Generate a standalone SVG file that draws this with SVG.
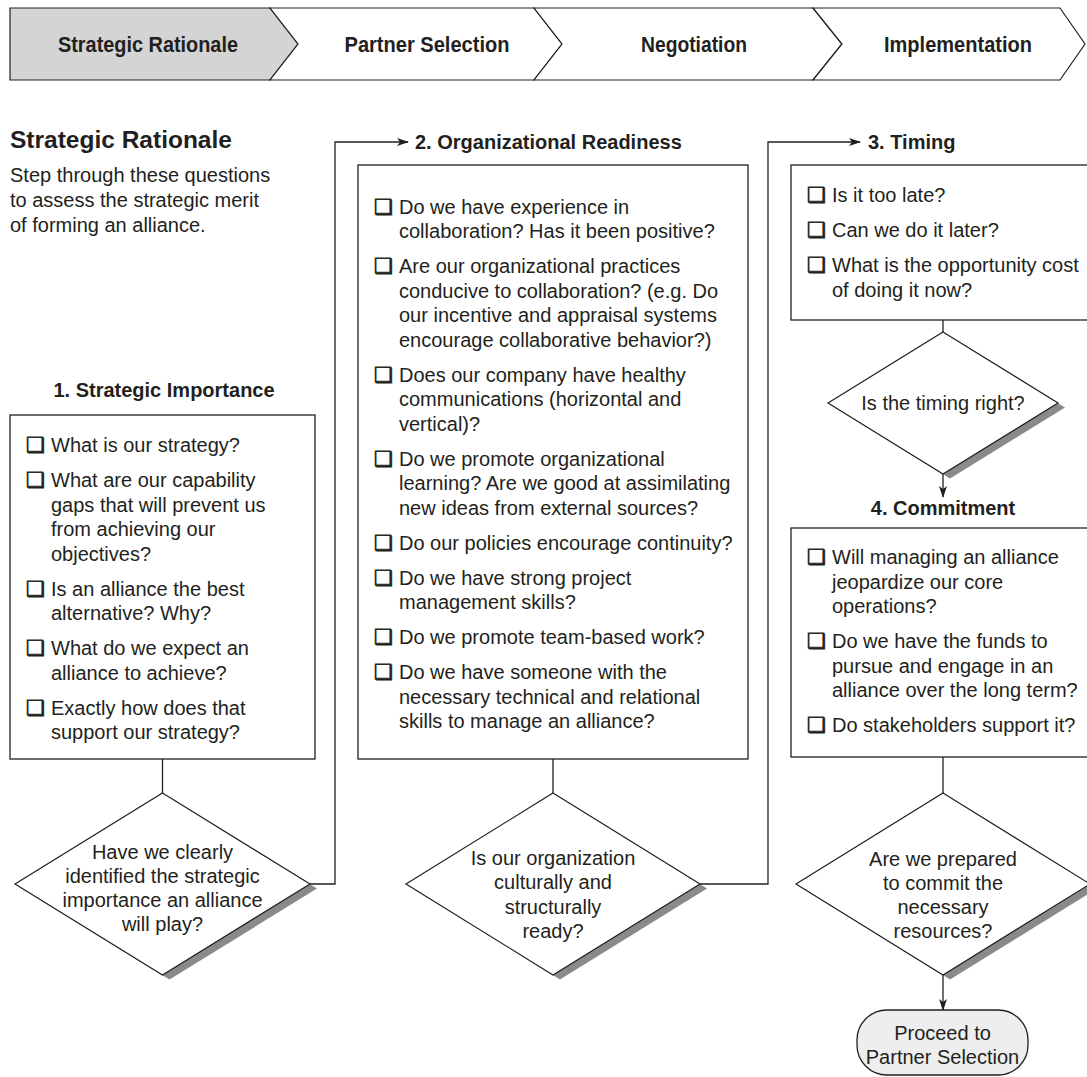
<svg xmlns="http://www.w3.org/2000/svg" width="1087" height="1077" viewBox="0 0 1087 1077">
<defs>
<marker id="arr" markerWidth="12" markerHeight="8" refX="11" refY="4" orient="auto" markerUnits="userSpaceOnUse">
<path d="M0,0 L12,4 L0,8 L3,4 z" fill="#231f20"/>
</marker>
</defs>
<style>
.t{font-family:"Liberation Sans",Arial,sans-serif;font-size:20px;fill:#231f20}
.b{font-weight:bold}
.h{font-size:24.5px}
.c{text-anchor:middle}
.bn{font-family:"Liberation Sans",Arial,sans-serif;font-size:22px;font-weight:bold;fill:#231f20;text-anchor:middle}
.cb{font-family:"DejaVu Sans",sans-serif;font-size:21px;fill:#231f20;stroke:#231f20;stroke-width:0.7}
.box{fill:#fff;stroke:#231f20;stroke-width:1.3}
.dia{fill:#fff;stroke:#231f20;stroke-width:1.2}
.sh{fill:#8a8a8a}
.ln{fill:none;stroke:#231f20;stroke-width:1.3}
.seg{stroke:#231f20;stroke-width:1.2;stroke-linejoin:miter}
</style>
<rect width="1087" height="1077" fill="#fff"/>

<g id="banner">
<path class="seg" d="M10,8 L270,8 L298,44 L270,80 L10,80 Z" fill="#d4d4d4"/>
<path class="seg" d="M270,8 L534,8 L562,44 L534,80 L270,80 L298,44 Z" fill="#fff"/>
<path class="seg" d="M534,8 L813,8 L842,44 L813,80 L534,80 L562,44 Z" fill="#fff"/>
<path class="seg" d="M813,8 L1060,8 L1085,44 L1060,80 L813,80 L842,44 Z" fill="#fff"/>
<text class="bn" x="148" y="52" textLength="180" lengthAdjust="spacingAndGlyphs">Strategic Rationale</text>
<text class="bn" x="427" y="52" textLength="165" lengthAdjust="spacingAndGlyphs">Partner Selection</text>
<text class="bn" x="694" y="52" textLength="106" lengthAdjust="spacingAndGlyphs">Negotiation</text>
<text class="bn" x="958" y="52" textLength="148" lengthAdjust="spacingAndGlyphs">Implementation</text>
</g>

<g id="intro">
<text class="t b h" x="10" y="148">Strategic Rationale</text>
<text class="t" x="10" y="182">Step through these questions</text>
<text class="t" x="10" y="207">to assess the strategic merit</text>
<text class="t" x="10" y="232">of forming an alliance.</text>
</g>

<g id="connectors">
<line class="ln" x1="162.5" y1="759" x2="162.5" y2="793"/>
<polyline class="ln" points="310,884 335,884 335,142 408,142" marker-end="url(#arr)"/>
<line class="ln" x1="553" y1="759" x2="553" y2="793"/>
<polyline class="ln" points="700,884 768,884 768,142 860,142" marker-end="url(#arr)"/>
<line class="ln" x1="943" y1="320" x2="943" y2="332"/>
<line class="ln" x1="943" y1="474" x2="943" y2="497" marker-end="url(#arr)"/>
<line class="ln" x1="943" y1="757" x2="943" y2="793"/>
<line class="ln" x1="943" y1="975" x2="943" y2="1010" marker-end="url(#arr)"/>
</g>

<g id="strategic-importance">
<text class="t b c" x="164" y="397">1. Strategic Importance</text>
<rect class="box" x="10" y="415" width="305" height="344"/>
<text class="cb" x="26" y="452">❑</text><text class="t" x="51" y="452">What is our strategy?</text>
<text class="cb" x="26" y="487">❑</text><text class="t" x="51" y="487">What are our capability</text>
<text class="t" x="51" y="511.5">gaps that will prevent us</text>
<text class="t" x="51" y="536">from achieving our</text>
<text class="t" x="51" y="560.5">objectives?</text>
<text class="cb" x="26" y="595.5">❑</text><text class="t" x="51" y="595.5">Is an alliance the best</text>
<text class="t" x="51" y="620">alternative? Why?</text>
<text class="cb" x="26" y="655">❑</text><text class="t" x="51" y="655">What do we expect an</text>
<text class="t" x="51" y="679.5">alliance to achieve?</text>
<text class="cb" x="26" y="714.5">❑</text><text class="t" x="51" y="714.5">Exactly how does that</text>
<text class="t" x="51" y="739">support our strategy?</text>
</g>

<g id="decision-1">
<path class="sh" transform="translate(7,4.5)" d="M162.5,793 L310,884 L162.5,975 L15,884 Z"/>
<path class="dia" d="M162.5,793 L310,884 L162.5,975 L15,884 Z"/>
<text class="t c" x="162.5" y="859">Have we clearly</text>
<text class="t c" x="162.5" y="883">identified the strategic</text>
<text class="t c" x="162.5" y="907">importance an alliance</text>
<text class="t c" x="162.5" y="931">will play?</text>
</g>

<g id="organizational-readiness">
<text class="t b" x="415" y="149">2. Organizational Readiness</text>
<rect class="box" x="358" y="165" width="390" height="594"/>
<text class="cb" x="374" y="213.5">❑</text><text class="t" x="399" y="213.5">Do we have experience in</text>
<text class="t" x="399" y="238">collaboration? Has it been positive?</text>
<text class="cb" x="374" y="273">❑</text><text class="t" x="399" y="273">Are our organizational practices</text>
<text class="t" x="399" y="297.5">conducive to collaboration? (e.g. Do</text>
<text class="t" x="399" y="322">our incentive and appraisal systems</text>
<text class="t" x="399" y="346.5">encourage collaborative behavior?)</text>
<text class="cb" x="374" y="381.5">❑</text><text class="t" x="399" y="381.5">Does our company have healthy</text>
<text class="t" x="399" y="406">communications (horizontal and</text>
<text class="t" x="399" y="430.5">vertical)?</text>
<text class="cb" x="374" y="465.5">❑</text><text class="t" x="399" y="465.5">Do we promote organizational</text>
<text class="t" x="399" y="490">learning? Are we good at assimilating</text>
<text class="t" x="399" y="514.5">new ideas from external sources?</text>
<text class="cb" x="374" y="549.5">❑</text><text class="t" x="399" y="549.5">Do our policies encourage continuity?</text>
<text class="cb" x="374" y="584.5">❑</text><text class="t" x="399" y="584.5">Do we have strong project</text>
<text class="t" x="399" y="609">management skills?</text>
<text class="cb" x="374" y="644">❑</text><text class="t" x="399" y="644">Do we promote team-based work?</text>
<text class="cb" x="374" y="679">❑</text><text class="t" x="399" y="679">Do we have someone with the</text>
<text class="t" x="399" y="703.5">necessary technical and relational</text>
<text class="t" x="399" y="728">skills to manage an alliance?</text>
</g>

<g id="decision-2">
<path class="sh" transform="translate(7,4.5)" d="M553,793 L700,884 L553,975 L406,884 Z"/>
<path class="dia" d="M553,793 L700,884 L553,975 L406,884 Z"/>
<text class="t c" x="553" y="865">Is our organization</text>
<text class="t c" x="553" y="889">culturally and</text>
<text class="t c" x="553" y="914">structurally</text>
<text class="t c" x="553" y="938">ready?</text>
</g>

<g id="timing">
<text class="t b" x="868" y="149">3. Timing</text>
<rect class="box" x="791" y="165" width="310" height="155"/>
<text class="cb" x="807" y="202">❑</text><text class="t" x="832" y="202">Is it too late?</text>
<text class="cb" x="807" y="237">❑</text><text class="t" x="832" y="237">Can we do it later?</text>
<text class="cb" x="807" y="272">❑</text><text class="t" x="832" y="272">What is the opportunity cost</text>
<text class="t" x="832" y="296.5">of doing it now?</text>
</g>

<g id="decision-3">
<path class="sh" transform="translate(7,4.5)" d="M943,332 L1058,403 L943,474 L828,403 Z"/>
<path class="dia" d="M943,332 L1058,403 L943,474 L828,403 Z"/>
<text class="t c" x="943" y="410">Is the timing right?</text>
</g>

<g id="commitment">
<text class="t b c" x="943" y="515">4. Commitment</text>
<rect class="box" x="791" y="528" width="310" height="229"/>
<text class="cb" x="807" y="564">❑</text><text class="t" x="832" y="564">Will managing an alliance</text>
<text class="t" x="832" y="588.5">jeopardize our core</text>
<text class="t" x="832" y="613">operations?</text>
<text class="cb" x="807" y="648">❑</text><text class="t" x="832" y="648">Do we have the funds to</text>
<text class="t" x="832" y="672.5">pursue and engage in an</text>
<text class="t" x="832" y="697">alliance over the long term?</text>
<text class="cb" x="807" y="732">❑</text><text class="t" x="832" y="732">Do stakeholders support it?</text>
</g>

<g id="decision-4">
<path class="sh" transform="translate(7,4.5)" d="M943,793 L1090,884 L943,975 L796,884 Z"/>
<path class="dia" d="M943,793 L1090,884 L943,975 L796,884 Z"/>
<text class="t c" x="943" y="866">Are we prepared</text>
<text class="t c" x="943" y="890">to commit the</text>
<text class="t c" x="943" y="914">necessary</text>
<text class="t c" x="943" y="938">resources?</text>
</g>

<g id="proceed">
<rect x="857" y="1010" width="171" height="65" rx="30" ry="30" fill="#eeeeee" stroke="#231f20" stroke-width="1.3"/>
<text class="t c" x="942.5" y="1040">Proceed to</text>
<text class="t c" x="942.5" y="1064">Partner Selection</text>
</g>
</svg>
